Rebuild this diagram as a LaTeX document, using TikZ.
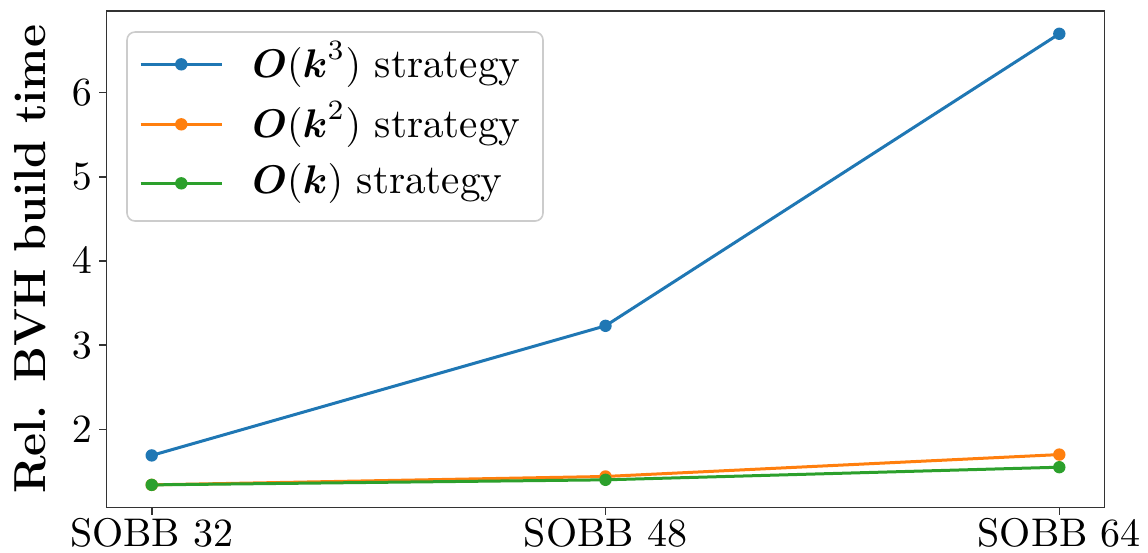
\documentclass[tikz,border=0pt]{standalone}
\usepackage{xcolor}
\usepackage{amsmath, amssymb}
\usepackage{tikz}
\usetikzlibrary{positioning}
\definecolor{tabblue}{HTML}{1F77B4}
\definecolor{taborange}{HTML}{FF7F0E}
\definecolor{tabgreen}{HTML}{2CA02C}

\begin{document}
\begin{tikzpicture}[x=113.45pt, y=21.04pt,
	series/.style={line width=0.75pt, line join=round},
	dot/.style={circle, fill, inner sep=0pt, minimum size=3.1pt},
	spine/.style={line width=0.4pt, black!80},
	ticklabel/.style={inner sep=0pt}]
	\useasboundingbox (-0.3343,0.5418) rectangle (2.1955,7.1016);
	% frame and ticks
	\draw[spine] (-0.1,1.072) rectangle (2.1,6.968);
	\foreach \v in {2,...,6} {
		\draw[spine] (-0.1,\v) -- ++(-1.75pt,0);
		\node[ticklabel, anchor=east] (ytick\v) at ([xshift=-3.4pt]-0.1,\v) {$\v$};
	}
	\foreach \i/\lab in {0/32,1/48,2/64} {
		\draw[spine] (\i,1.072) -- ++(0,-1.9pt);
		\node[ticklabel, anchor=base] (xtick\i) at (\i,0.605) {SOBB \lab};
	}
	\node[rotate=90, anchor=base, inner sep=0pt, font=\fontsize{11.2}{14}\bfseries\selectfont] (ylab) at (-0.2351,4.02) {Rel. BVH build time};
	% data
	\coordinate (b0) at (0,1.69);  \coordinate (b1) at (1,3.23);  \coordinate (b2) at (2,6.70);
	\coordinate (o0) at (0,1.34);  \coordinate (o1) at (1,1.44);  \coordinate (o2) at (2,1.70);
	\coordinate (g0) at (0,1.34);  \coordinate (g1) at (1,1.40);  \coordinate (g2) at (2,1.55);
	\foreach \s/\c in {b/tabblue, o/taborange, g/tabgreen} {
		\draw[series, \c] (\s0) -- (\s1) -- (\s2);
		\foreach \k in {0,1,2}
			\node[dot, \c] at (\s\k) {};
	}
	% legend
	\draw[draw=black!20, fill=white, rounded corners=2pt, line width=0.4pt] (-0.0544,4.475) rectangle (0.8623,6.721);
	\foreach \c/\y/\txt [count=\n] in {tabblue/6.337/{$\boldsymbol{O}(\boldsymbol{k}^3)$ strategy},
			taborange/5.624/{$\boldsymbol{O}(\boldsymbol{k}^2)$ strategy},
			tabgreen/4.923/{$\boldsymbol{O}(\boldsymbol{k})$ strategy}} {
		\draw[series, \c] (-0.0242,\y) -- (0.1549,\y);
		\node[dot, \c] at (0.0652,\y) {};
		\node[anchor=west, inner sep=0pt, font=\fontsize{10.3}{12}\selectfont] (leg\n) at (0.2201,\y) {\txt};
	}
\end{tikzpicture}
\end{document}
